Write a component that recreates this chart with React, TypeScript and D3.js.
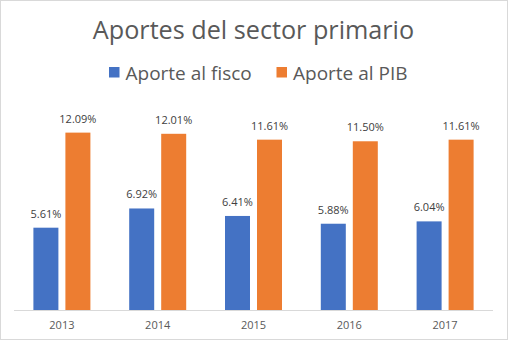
import React from "react";
import * as d3 from "d3";

const categories = ["2013", "2014", "2015", "2016", "2017"];
const seriesNames = ["Aporte al fisco", "Aporte al PIB"];
const fisco = [5.61, 6.92, 6.41, 5.88, 6.04];
const pib = [12.09, 12.01, 11.61, 11.5, 11.61];
const colors = ["#4472C4", "#ED7D31"];

const W = 508;
const H = 341;
const FONT = "'Open Sans', 'Liberation Sans', sans-serif";

export default function App() {
  const left = 14;
  const right = 493;
  const baseline = 310;
  const top = 104.6;

  const x = d3.scaleBand().domain(categories).range([left, right]).paddingInner(0).paddingOuter(0);
  const y = d3.scaleLinear().domain([0, 14]).range([baseline, top]);
  const barW = 25;
  const gap = 7;
  const series = [fisco, pib];

  return (
    <svg width={W} height={H} style={{ position: "absolute", left: 0, top: 0, background: "#fff" }}>
      <rect x={0.5} y={0.5} width={W - 1} height={H - 2} fill="#fff" stroke="#d9d9d9" />
      <text x={253.5} y={39} textAnchor="middle" fontFamily={FONT} fontSize={25.2} fill="#595959">
        Aportes del sector primario
      </text>
      {/* legend */}
      <g fontFamily={FONT} fontSize={19} fill="#595959">
        <rect x={109} y={67} width={10.5} height={10.5} fill={colors[0]} />
        <text x={125.5} y={79.5}>{seriesNames[0]}</text>
        <rect x={276.5} y={67} width={10.5} height={10.5} fill={colors[1]} />
        <text x={293} y={79.5}>{seriesNames[1]}</text>
      </g>
      {categories.map((c, i) => {
        const cx = (x(c) as number) + x.bandwidth() / 2;
        return (
          <g key={c}>
            {series.map((s, j) => {
              const bx = j === 0 ? cx - gap / 2 - barW : cx + gap / 2;
              const v = s[i];
              return (
                <g key={j}>
                  <rect x={bx} y={y(v)} width={barW} height={baseline - y(v)} fill={colors[j]} />
                  <text
                    x={bx + barW / 2}
                    y={y(v) - 10}
                    textAnchor="middle"
                    fontFamily={FONT}
                    fontSize={11}
                    fill="#404040"
                  >
                    {v.toFixed(2) + "%"}
                  </text>
                </g>
              );
            })}
            <text x={cx} y={329} textAnchor="middle" fontFamily={FONT} fontSize={11} fill="#595959">
              {c}
            </text>
          </g>
        );
      })}
      <line x1={left} x2={right} y1={baseline + 0.5} y2={baseline + 0.5} stroke="#d9d9d9" />
    </svg>
  );
}
